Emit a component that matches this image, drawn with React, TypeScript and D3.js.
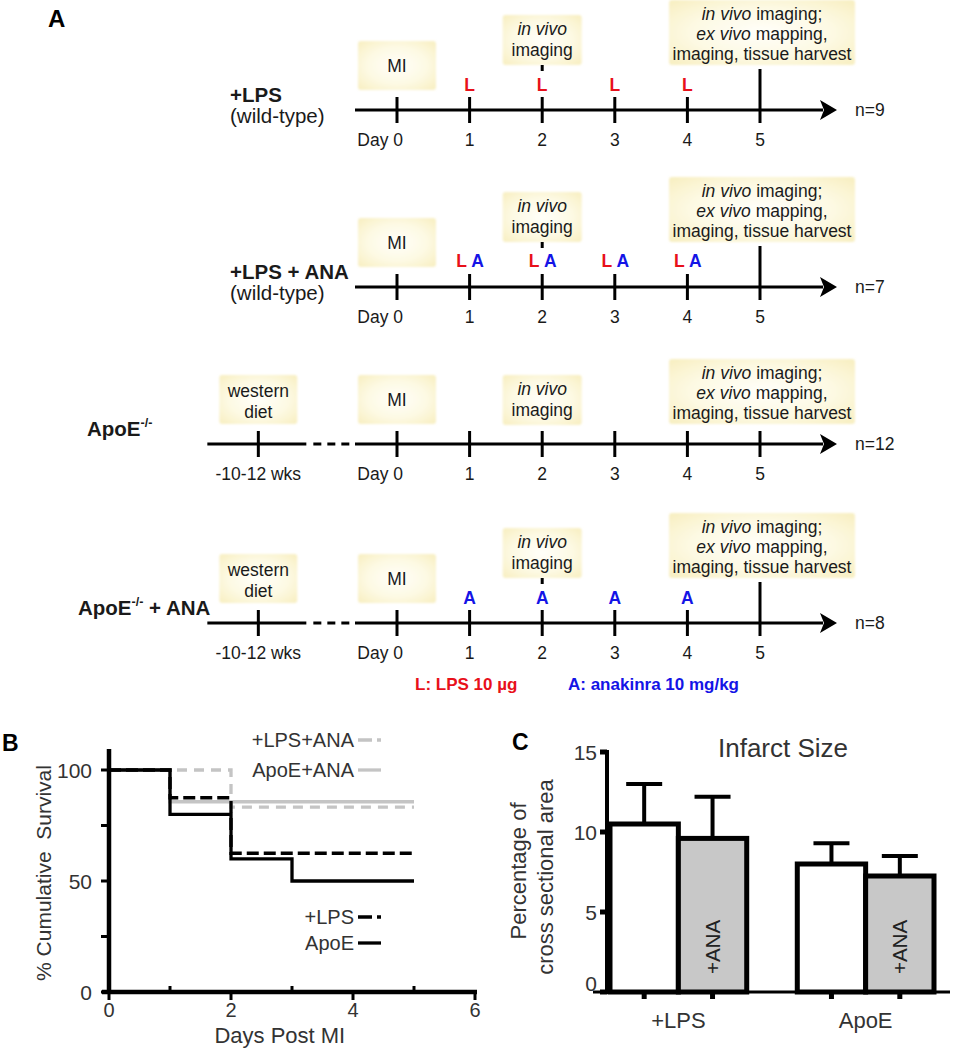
import React from "react";
import * as d3 from "d3";

// ---------- DATA ----------
const DAYS = [0, 1, 2, 3, 4, 5];
const DAY_LABELS = ["Day 0", "1", "2", "3", "4", "5"];
const DOSE_DAYS = [1, 2, 3, 4];
const GROUPS = ["+LPS", "+LPS + ANA", "ApoE", "ApoE + ANA"];
const GROUP_NOTES = ["(wild-type)", "(wild-type)", "", ""];
const GROUP_N = ["n=9", "n=7", "n=12", "n=8"];
const GROUP_DOSES = [["L"], ["L", "A"], [], ["A"]];
const GROUP_DIET = [false, false, true, true];
const PRE_LABEL = "-10-12 wks";
const LEGEND_L = "L: LPS 10 µg";
const LEGEND_A = "A: anakinra 10 mg/kg";

// survival (Kaplan-Meier)
const SURV_NAMES = ["ApoE+ANA", "+LPS+ANA", "+LPS", "ApoE"];
const SURV_DAYS = [
  [0, 1, 5],
  [0, 2, 5],
  [0, 1, 2, 5],
  [0, 1, 2, 3, 5],
];
const SURV_VALUES = [
  [100, 85.7, 85.7],
  [100, 83.3, 83.3],
  [100, 87.5, 62.5, 62.5],
  [100, 80, 60, 50, 50],
];
const SURV_Y_TICKS = [0, 25, 50, 75, 100];
const SURV_Y_LABELS = [0, 50, 100];
const SURV_X_TICKS = [0, 1, 2, 3, 4, 5, 6];
const SURV_X_LABELS = [0, 2, 4, 6];

// infarct size
const INF_GROUPS = ["+LPS", "ApoE"];
const INF_TREAT = ["ctrl", "ana"];
const INF_MEAN = [
  [10.5, 9.6],
  [8.0, 7.25],
];
const INF_UPPER = [
  [13.0, 12.2],
  [9.3, 8.5],
];
const INF_TICKS = [0, 5, 10, 15];

// ---------- STYLE ----------
const FONT = "'Liberation Sans', Arial, Helvetica, sans-serif";
const TXT = "#1a1a1a";
const RED = "#e8101a";
const BLUE = "#1414e6";
const GRAY = "#c4c4c4";

const ROW_Y = [110, 287, 444, 623];
const ROW_LABEL_X = [230, 230, 87, 78];

const xDay = d3.scaleLinear().domain([0, 5]).range([397, 760]);

function Box({ cx, y, w, h }: { cx: number; y: number; w: number; h: number }) {
  return (
    <rect x={cx - w / 2} y={y} width={w} height={h} rx={3} fill="url(#boxg)" filter="url(#soft)" />
  );
}

function Timeline({ i }: { i: number }) {
  const ay = ROW_Y[i];
  const doses = GROUP_DOSES[i];
  const diet = GROUP_DIET[i];
  const hasDoses = doses.length > 0;
  const start = xDay(0) - 42;
  const arrowTip = xDay(5) + 77;
  const arrowBase = arrowTip - 17;
  const preX = xDay(-1.91);
  const bigTop = hasDoses ? ay - 110 : ay - 85;
  const vivoTop = hasDoses ? ay - 95 : ay - 69;
  return (
    <g>
      {/* group label */}
      {i < 2 ? (
        <>
          <text x={ROW_LABEL_X[i]} y={ay - 15} dy="0.36em" fontSize={20.5} fontWeight="bold" fill={TXT}>
            {GROUPS[i]}
          </text>
          <text x={ROW_LABEL_X[i]} y={ay + 6} dy="0.36em" fontSize={20.5} fill={TXT}>
            {GROUP_NOTES[i]}
          </text>
        </>
      ) : (
        <text x={ROW_LABEL_X[i]} y={ay - 15} dy="0.36em" fontSize={20.5} fontWeight="bold" fill={TXT}>
          {GROUPS[i].split(" ")[0]}
          <tspan fontSize={12.5} dy="-0.75em">-/-</tspan>
          <tspan dy="0.45em">{GROUPS[i].slice(4)}</tspan>
        </text>
      )}

      {/* axis line */}
      {diet ? (
        <>
          <line x1={preX - 51} x2={preX + 48} y1={ay} y2={ay} stroke="#000" strokeWidth={3} />
          <line x1={preX + 55} x2={start - 4} y1={ay} y2={ay} stroke="#000" strokeWidth={3} strokeDasharray="8,6" />
          <line x1={preX} x2={preX} y1={ay - 13} y2={ay + 13} stroke="#000" strokeWidth={3} />
          <text x={preX} y={ay + 30} dy="0.36em" textAnchor="middle" fontSize={17.5} fill={TXT}>
            {PRE_LABEL}
          </text>
          <Box cx={preX} y={ay - 69} w={78} h={49} />
          <text x={preX} y={ay - 53} dy="0.36em" textAnchor="middle" fontSize={17.5} fill={TXT}>western</text>
          <text x={preX} y={ay - 32} dy="0.36em" textAnchor="middle" fontSize={17.5} fill={TXT}>diet</text>
        </>
      ) : null}
      <line x1={start} x2={arrowBase + 3} y1={ay} y2={ay} stroke="#000" strokeWidth={3} />
      <path
        d={`M${arrowBase},${ay - 10} L${arrowTip},${ay} L${arrowBase},${ay + 10} L${arrowBase + 4},${ay} Z`}
        fill="#000"
      />
      <text x={arrowTip + 18} y={ay} dy="0.36em" fontSize={17.5} fill={TXT}>
        {GROUP_N[i]}
      </text>

      {/* boxes */}
      <Box cx={xDay(0)} y={ay - 69} w={78} h={49} />
      <text x={xDay(0)} y={ay - 44} dy="0.36em" textAnchor="middle" fontSize={17.5} fill={TXT}>MI</text>

      <Box cx={xDay(2)} y={vivoTop} w={79} h={50} />
      <text x={xDay(2)} y={vivoTop + 14} dy="0.36em" textAnchor="middle" fontSize={17.5} fontStyle="italic" fill={TXT}>
        in vivo
      </text>
      <text x={xDay(2)} y={vivoTop + 35} dy="0.36em" textAnchor="middle" fontSize={17.5} fill={TXT}>
        imaging
      </text>
      {hasDoses ? (
        <line x1={xDay(2)} x2={xDay(2)} y1={vivoTop + 50} y2={vivoTop + 56} stroke="#000" strokeWidth={3} />
      ) : null}

      <Box cx={xDay(5) + 2} y={bigTop} w={186} h={65} />
      <text x={xDay(5) + 2} y={bigTop + 14} dy="0.36em" textAnchor="middle" fontSize={17.5} fill={TXT}>
        <tspan fontStyle="italic">in vivo</tspan> imaging;
      </text>
      <text x={xDay(5) + 2} y={bigTop + 34} dy="0.36em" textAnchor="middle" fontSize={17.5} fill={TXT}>
        <tspan fontStyle="italic">ex vivo</tspan> mapping,
      </text>
      <text x={xDay(5) + 2} y={bigTop + 54} dy="0.36em" textAnchor="middle" fontSize={17.5} fill={TXT}>
        imaging, tissue harvest
      </text>

      {/* ticks */}
      {DAYS.map((d, k) => (
        <g key={d}>
          <line
            x1={xDay(d)}
            x2={xDay(d)}
            y1={d === 5 && hasDoses ? bigTop + 69 : ay - 13}
            y2={ay + 13}
            stroke="#000"
            strokeWidth={3}
          />
          <text
            x={k === 0 ? xDay(d) + 6 : xDay(d)}
            y={ay + 30}
            dy="0.36em"
            textAnchor={k === 0 ? "end" : "middle"}
            fontSize={17.5}
            fill={TXT}
          >
            {DAY_LABELS[k]}
          </text>
        </g>
      ))}

      {/* dose markers */}
      {DOSE_DAYS.map((d) =>
        doses.map((m, j) => {
          const off = doses.length === 2 ? (j === 0 ? -8 : 8) : 0;
          return (
            <text
              key={d + m}
              x={xDay(d) + off}
              y={ay - (doses.length === 2 ? 26 : 25)}
              dy="0.36em"
              textAnchor="middle"
              fontSize={17.5}
              fontWeight="bold"
              fill={m === "L" ? RED : BLUE}
            >
              {m}
            </text>
          );
        })
      )}
    </g>
  );
}

function Survival() {
  const x = d3.scaleLinear().domain([0, 6]).range([109, 475]);
  const y = d3.scaleLinear().domain([0, 100]).range([992, 770]);
  const line = d3
    .line<[number, number]>()
    .x((d) => x(d[0]))
    .y((d) => y(d[1]))
    .curve(d3.curveStepAfter);
  const styles = [
    { stroke: GRAY, dash: "none" },
    { stroke: GRAY, dash: "10,7" },
    { stroke: "#000", dash: "12,5" },
    { stroke: "#000", dash: "none" },
  ];
  const legendPos = [
    { yy: 770, idx: 0 },
    { yy: 740, idx: 1 },
    { yy: 917, idx: 2 },
    { yy: 943, idx: 3 },
  ];
  const legendDash = ["none", "14,5,4,20", "14,5,4,20", "none"];
  return (
    <g fontFamily={FONT}>
      <text x={2} y={743} dy="0.36em" fontSize={23} fontWeight="bold" fill="#000">B</text>
      {SURV_NAMES.map((nm, i) => {
        const pts = SURV_DAYS[i].map((d, k) => [d, SURV_VALUES[i][k]] as [number, number]);
        return (
          <path
            key={nm}
            d={line(pts) || ""}
            fill="none"
            stroke={styles[i].stroke}
            strokeWidth={3.3}
            strokeDasharray={styles[i].dash}
          />
        );
      })}
      {/* axes */}
      <line x1={x(0)} x2={x(0)} y1={y(109.5)} y2={y(0) + 2} stroke="#000" strokeWidth={4.5} />
      <line x1={x(0) - 7} x2={x(6) + 2} y1={y(0)} y2={y(0)} stroke="#000" strokeWidth={4.5} />
      {SURV_Y_TICKS.map((t) => (
        <line key={t} x1={x(0) - 8} x2={x(0)} y1={y(t)} y2={y(t)} stroke="#000" strokeWidth={3} />
      ))}
      {SURV_Y_LABELS.map((t) => (
        <text key={t} x={x(0) - 17} y={y(t)} dy="0.36em" textAnchor="end" fontSize={21} fill="#333">
          {t}
        </text>
      ))}
      {SURV_X_TICKS.map((t) => (
        <line
          key={t}
          x1={x(t)}
          x2={x(t)}
          y1={y(0)}
          y2={y(0) + (t % 2 === 0 ? 8 : -6)}
          stroke="#000"
          strokeWidth={3}
        />
      ))}
      {SURV_X_LABELS.map((t) => (
        <text key={t} x={x(t)} y={1010} dy="0.36em" textAnchor="middle" fontSize={20} fill="#333">
          {t}
        </text>
      ))}
      <text x={x(2.8)} y={1035} dy="0.36em" textAnchor="middle" fontSize={22} fill="#333">
        Days Post MI
      </text>
      <text
        transform={`translate(43,${873}) rotate(-90)`}
        dy="0.36em"
        textAnchor="middle"
        fontSize={21}
        fill="#333"
        style={{ whiteSpace: "pre" }}
      >
        % Cumulative  Survival
      </text>
      {legendPos.map((p) => (
        <g key={p.idx}>
          <text x={354} y={p.yy} dy="0.36em" textAnchor="end" fontSize={20} fill="#333">
            {SURV_NAMES[p.idx]}
          </text>
          <line
            x1={358}
            x2={381}
            y1={p.yy}
            y2={p.yy}
            stroke={styles[p.idx].stroke}
            strokeWidth={3.3}
            strokeDasharray={legendDash[p.idx]}
          />
        </g>
      ))}
    </g>
  );
}

function Infarct() {
  const y = d3.scaleLinear().domain([0, 15]).range([992, 752]);
  const xg = d3.scaleBand<string>().domain(INF_GROUPS).range([610, 934]).paddingInner(0.27);
  const xt = d3.scaleBand<string>().domain(INF_TREAT).range([0, xg.bandwidth()]);
  return (
    <g fontFamily={FONT}>
      <text x={512} y={742} dy="0.36em" fontSize={23} fontWeight="bold" fill="#000">C</text>
      <text x={783} y={748} dy="0.36em" textAnchor="middle" fontSize={26} fill="#333">Infarct Size</text>
      {INF_GROUPS.map((g, gi) =>
        INF_TREAT.map((t, ti) => {
          const x0 = (xg(g) || 0) + (xt(t) || 0);
          const w = xt.bandwidth();
          const cx = x0 + w / 2;
          const m = INF_MEAN[gi][ti];
          const u = INF_UPPER[gi][ti];
          return (
            <g key={g + t}>
              <line x1={cx} x2={cx} y1={y(m)} y2={y(u)} stroke="#000" strokeWidth={4} />
              <line x1={cx - 18} x2={cx + 18} y1={y(u)} y2={y(u)} stroke="#000" strokeWidth={4} />
              <rect
                x={x0}
                y={y(m)}
                width={w}
                height={y(0) - y(m)}
                fill={t === "ana" ? "#c8c8c8" : "#fff"}
                stroke="#000"
                strokeWidth={5}
              />
              <line x1={cx} x2={cx} y1={y(0)} y2={y(0) + 7} stroke="#000" strokeWidth={5} />
              {t === "ana" ? (
                <text
                  transform={`translate(${cx},${947}) rotate(-90)`}
                  dy="0.36em"
                  textAnchor="middle"
                  fontSize={20.5}
                  fill="#222"
                >
                  +ANA
                </text>
              ) : null}
            </g>
          );
        })
      )}
      <line x1={593} x2={950} y1={y(0)} y2={y(0)} stroke="#000" strokeWidth={3} />
      <line x1={607} x2={607} y1={y(15) - 2} y2={y(0) + 2} stroke="#000" strokeWidth={4} />
      {INF_TICKS.map((t) => (
        <g key={t}>
          <line x1={600} x2={607} y1={y(t)} y2={y(t)} stroke="#000" strokeWidth={5} />
          <text
            x={597}
            y={t === 0 ? y(t) - 9 : y(t)}
            dy="0.36em"
            textAnchor="end"
            fontSize={21}
            fill="#333"
          >
            {t}
          </text>
        </g>
      ))}
      {INF_GROUPS.map((g) => (
        <text
          key={g}
          x={(xg(g) || 0) + xg.bandwidth() / 2}
          y={1020}
          dy="0.36em"
          textAnchor="middle"
          fontSize={22}
          fill="#333"
        >
          {g}
        </text>
      ))}
      <text transform="translate(518,871) rotate(-90)" dy="0.36em" textAnchor="middle" fontSize={22} fill="#333">
        Percentage of
      </text>
      <text transform="translate(545,877) rotate(-90)" dy="0.36em" textAnchor="middle" fontSize={22} fill="#333">
        cross sectional area
      </text>
    </g>
  );
}

export default function App() {
  return (
    <div style={{ position: "absolute", left: 0, top: 0 }}>
      <svg width={956} height={1050} viewBox="0 0 956 1050" style={{ display: "block", background: "#fff" }}>
        <defs>
          <radialGradient id="boxg" cx="50%" cy="50%" r="72%">
            <stop offset="0" stopColor="#fffffa" />
            <stop offset="0.55" stopColor="#fdf9e2" />
            <stop offset="1" stopColor="#f7eebe" />
          </radialGradient>
          <filter id="soft" x="-10%" y="-10%" width="120%" height="120%">
            <feGaussianBlur stdDeviation="1.2" />
          </filter>
        </defs>
        <g fontFamily={FONT}>
          <text x={48} y={18} dy="0.36em" fontSize={24} fontWeight="bold" fill="#000">A</text>
          {GROUPS.map((g, i) => (
            <Timeline key={g} i={i} />
          ))}
          <text x={415} y={684} dy="0.36em" fontSize={17} fontWeight="bold" fill={RED}>{LEGEND_L}</text>
          <text x={568} y={684} dy="0.36em" fontSize={17} fontWeight="bold" fill={BLUE}>{LEGEND_A}</text>
        </g>
        <Survival />
        <Infarct />
      </svg>
    </div>
  );
}
